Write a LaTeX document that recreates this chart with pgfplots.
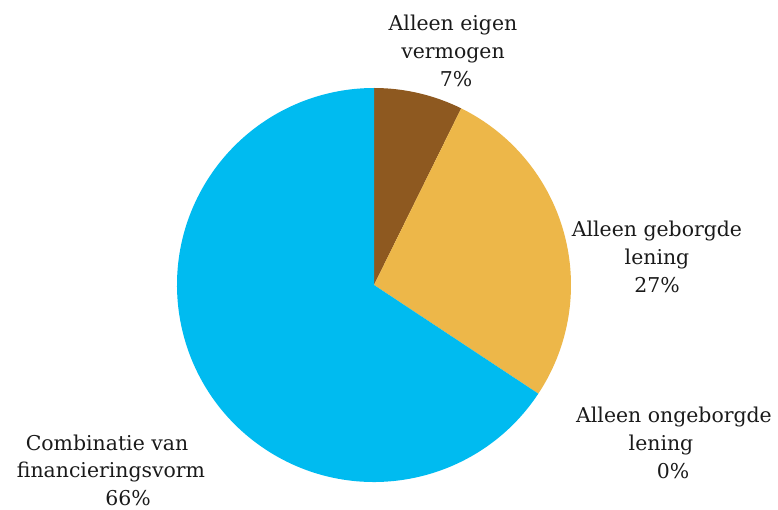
\documentclass[border=0pt]{standalone}
\usepackage{pgfplots}
\usepackage{pgfplotstable}
\pgfplotsset{compat=1.18}
\usepackage{fontspec}
\setmainfont{DejaVu Serif}

\definecolor{pieBrown}{HTML}{8E5920}
\definecolor{pieYellow}{HTML}{EDB749}
\definecolor{pieBlue}{HTML}{00BBF0}
\definecolor{labelText}{HTML}{1A1A1A}

% shares in percent, clockwise from 12 o'clock
\pgfplotstableread{
share
7.3
27.0
0.0
65.7
}\piedata

\pgfplotstablegetelem{0}{share}\of\piedata \let\sA\pgfplotsretval
\pgfplotstablegetelem{1}{share}\of\piedata \let\sB\pgfplotsretval
\pgfplotstablegetelem{2}{share}\of\piedata \let\sC\pgfplotsretval
\pgfplotstablegetelem{3}{share}\of\piedata \let\sD\pgfplotsretval
\pgfmathsetmacro{\aA}{90-3.6*\sA}
\pgfmathsetmacro{\aB}{\aA-3.6*\sB}
\pgfmathsetmacro{\aC}{\aB-3.6*\sC}
\pgfmathsetmacro{\aD}{\aC-3.6*\sD}

\tikzset{lbl/.style={text=labelText, inner sep=0pt, anchor=base, font=\fontsize{20.5}{28}\selectfont}}

\begin{document}
\begin{tikzpicture}
\begin{axis}[
    x=1bp, y=1bp,
    xmin=0, xmax=778, ymin=0, ymax=507,
    hide axis, clip=false
]
\path (axis cs:0,0) rectangle (axis cs:778,507);
% slices, centre (374,222), radius 197
\fill[pieBrown]  (axis cs:374,222) -- ++(90:197bp)  arc[start angle=90,  end angle=\aA, radius=197bp] -- cycle;
\fill[pieYellow] (axis cs:374,222) -- ++(\aA:197bp) arc[start angle=\aA, end angle=\aB, radius=197bp] -- cycle;
\fill[pieBlue]   (axis cs:374,222) -- ++(\aC:197bp) arc[start angle=\aC, end angle=\aD, radius=197bp] -- cycle;

% labels, one node per line (baselines)
\node[lbl] at (axis cs:453,476) {Alleen eigen};
\node[lbl] at (axis cs:453,448) {vermogen};
\node[lbl] at (axis cs:456,420) {7\%};

\node[lbl] at (axis cs:657,271) {Alleen geborgde};
\node[lbl] at (axis cs:657,243) {lening};
\node[lbl] at (axis cs:657,215) {27\%};

\node[lbl] at (axis cs:674,85) {Alleen ongeborgde};
\node[lbl] at (axis cs:661,57) {lening};
\node[lbl] at (axis cs:673,29) {0\%};

\node[lbl] at (axis cs:107,57) {Combinatie van};
\node[lbl] at (axis cs:111,30) {financieringsvorm};
\node[lbl] at (axis cs:128,2)  {66\%};
\end{axis}
\end{tikzpicture}
\end{document}
